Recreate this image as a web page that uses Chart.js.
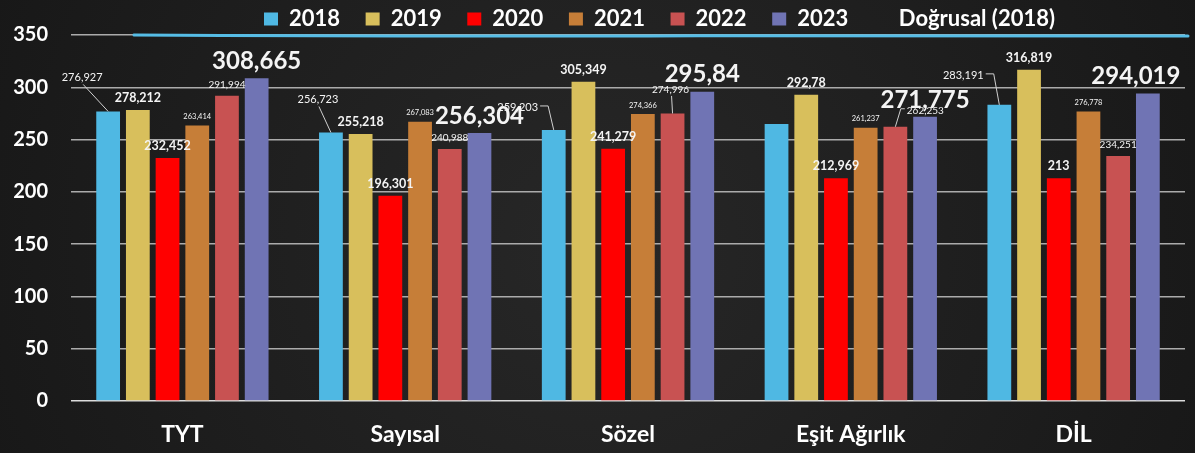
<!DOCTYPE html>
<html><head><meta charset="utf-8">
<script src="https://cdn.jsdelivr.net/npm/chart.js@4"></script>
<style>
html,body{margin:0;padding:0;background:#1e1e1e;overflow:hidden;}
#wrap{width:1195px;height:453px;position:relative;}
</style>
</head><body><div id="wrap"><canvas id="c"></canvas></div>
<script>
// ---- data ----
const categories = ['TYT', 'Sayısal', 'Sözel', 'Eşit Ağırlık', 'DİL'];
const years = ['2018', '2019', '2020', '2021', '2022', '2023'];
const v2018 = [276.927, 256.723, 259.203, 265, 283.191];
const v2019 = [278.212, 255.218, 305.349, 292.78, 316.819];
const v2020 = [232.452, 196.301, 241.279, 212.969, 213];
const v2021 = [263.414, 267.083, 274.366, 261.237, 276.778];
const v2022 = [291.994, 240.988, 274.996, 262.253, 234.251];
const v2023 = [308.665, 256.304, 295.84, 271.775, 294.019];
const trendLabel = 'Doğrusal (2018)';
const yTicks = [0, 50, 100, 150, 200, 250, 300, 350];

// ---- styles ----
const colors = ['#4fb8e3', '#d8bf5c', '#ff0000', '#c67e38', '#c85252', '#7074b4'];
const labelStyle = [
  {size: 11, weight: 'normal', gap: 12},
  {size: 12.5, weight: 'bold', gap: 12},
  {size: 12.5, weight: 'bold', gap: 12},
  {size: 7.5, weight: 'normal', gap: 9},
  {size: 10, weight: 'normal', gap: 11},
  {size: 24, weight: 'bold', gap: 17}
];
const labelOverrides = {
  '0-0': {dx: -26, dy: -34, leader: 'straight'},
  '0-1': {dx: -13, dy: -33, leader: 'straight'},
  '0-2': {dx: -36, dy: -22, leader: 'right'},
  '0-3': {hide: true},
  '0-4': {dx: -36, dy: -29, leader: 'right'},
  '4-2': {dx: -2, dy: -24, leader: 'straight'},
  '4-3': {dx: 30, dy: -16, leader: 'left'},
  '5-4': {dx: -12}
};
const fmt = v => String(v).replace('.', ',');

const series = [v2018, v2019, v2020, v2021, v2022, v2023];

Chart.defaults.font.family = 'Lato, "Open Sans", sans-serif';
Chart.defaults.color = '#ffffff';

const bgPlugin = {
  id: 'bg',
  beforeDraw(chart) {
    const {ctx, width, height} = chart;
    ctx.save();
    const g = ctx.createRadialGradient(width * 0.5, height * 0.55, 50, width * 0.5, height * 0.5, width * 0.65);
    g.addColorStop(0, '#262626');
    g.addColorStop(1, '#151515');
    ctx.fillStyle = g;
    ctx.fillRect(0, 0, width, height);
    ctx.restore();
  }
};

const legendShift = {
  id: 'legendShift',
  afterLayout(chart) {
    const lg = chart.legend;
    if (!lg || !lg.lineWidths) return;
    const pad = lg.options.labels.padding;
    const lineW = lg.lineWidths[0];
    const targetX = 264;
    lg.left = 2 * targetX - pad - lg.right + lineW;
    lg.top = 8 - pad;
  }
};

const chalkLine = {
  id: 'chalkLine',
  afterDraw(chart) {
    const {ctx, chartArea} = chart;
    const y = chartArea.top + 0.5;
    ctx.save();
    ctx.strokeStyle = '#56bde6';
    ctx.lineWidth = 3;
    ctx.lineCap = 'round';
    ctx.beginPath();
    ctx.moveTo(134, y - 0.5);
    ctx.quadraticCurveTo(400, y + 1.2, 700, y + 0.3);
    ctx.quadraticCurveTo(950, y - 0.6, chartArea.right + 3, y + 0.4);
    ctx.stroke();
    ctx.restore();
  }
};

const valueLabels = {
  id: 'valueLabels',
  afterDatasetsDraw(chart) {
    const {ctx} = chart;
    ctx.save();
    for (let i = 0; i < series.length; i++) {
      const meta = chart.getDatasetMeta(i);
      const st = labelStyle[i];
      meta.data.forEach((bar, j) => {
        const ov = labelOverrides[i + '-' + j] || {};
        if (ov.hide) return;
        const bx = bar.x, by = bar.y;
        const lx = bx + (ov.dx || 0);
        const ly = by + (ov.dy !== undefined ? ov.dy : -st.gap);
        const text = fmt(chart.data.datasets[i].data[j]);
        ctx.font = st.weight + ' ' + st.size + 'px Lato, "Open Sans", sans-serif';
        ctx.fillStyle = '#f4f4f4';
        ctx.textAlign = 'center';
        ctx.textBaseline = 'middle';
        ctx.fillText(text, lx, ly);
        if (ov.leader) {
          const w = ctx.measureText(text).width;
          ctx.strokeStyle = '#d0d0d0';
          ctx.lineWidth = 1;
          ctx.beginPath();
          if (ov.leader === 'straight') {
            ctx.moveTo(lx + 1, ly + st.size * 0.45 + 2);
            ctx.lineTo(bx, by);
          } else if (ov.leader === 'right') {
            ctx.moveTo(lx + w / 2 + 2, ly - 2);
            ctx.lineTo(lx + w / 2 + 10, ly - 2);
            ctx.lineTo(bx, by);
          } else {
            ctx.moveTo(lx - w / 2 - 2, ly - 2);
            ctx.lineTo(lx - w / 2 - 6, ly - 2);
            ctx.lineTo(bx, by);
          }
          ctx.stroke();
        }
      });
    }
    ctx.restore();
  }
};

const datasets = years.map((y, i) => ({
  type: 'bar',
  label: y,
  data: series[i],
  backgroundColor: colors[i],
  borderWidth: 0,
  categoryPercentage: 0.8,
  barPercentage: 0.8
}));
datasets.push({
  type: 'line',
  label: trendLabel,
  data: [],
  borderColor: 'rgba(0,0,0,0)',
  backgroundColor: 'rgba(0,0,0,0)',
  borderWidth: 0,
  pointRadius: 0
});

new Chart(document.getElementById('c'), {
  type: 'bar',
  data: {labels: categories, datasets},
  plugins: [bgPlugin, legendShift, chalkLine, valueLabels],
  options: {
    responsive: true,
    maintainAspectRatio: false,
    animation: false,
    devicePixelRatio: 1,
    layout: {padding: {left: 0, right: 10, top: 0, bottom: 0}},
    plugins: {
      tooltip: {enabled: false},
      legend: {
        display: true,
        position: 'top',
        maxHeight: 32,
        labels: {
          color: '#ffffff',
          boxWidth: 14,
          boxHeight: 13,
          padding: 25.6,
          font: {size: 22, weight: 'bold'}
        }
      }
    },
    scales: {
      x: {
        grid: {display: false, drawTicks: false},
        border: {display: false},
        ticks: {color: '#ffffff', padding: 20, font: {size: 23, weight: 'bold'}},
        afterFit: s => { s.height = 52; }
      },
      y: {
        min: 0,
        max: 350,
        afterBuildTicks: s => { s.ticks = yTicks.map(v => ({value: v})); },
        grid: {
          drawTicks: false,
          color: c => c.tick && c.tick.value === 0 ? '#dcdcdc' : '#ababab',
          lineWidth: 1.5
        },
        border: {display: false},
        ticks: {color: '#ffffff', padding: 23, font: {size: 20, weight: 'bold'}},
        afterFit: s => { s.width = 71; }
      }
    }
  }
});
</script>
</body></html>
